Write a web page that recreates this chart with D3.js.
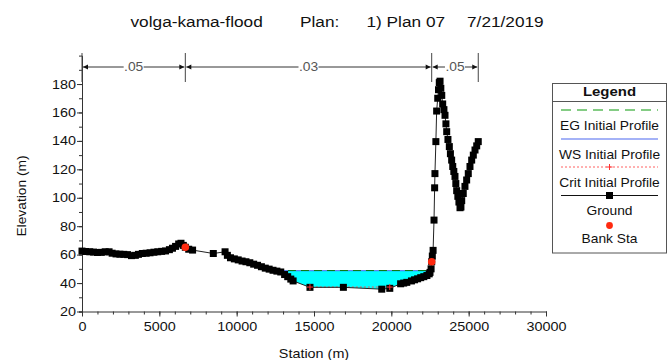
<!DOCTYPE html>
<html><head><meta charset="utf-8">
<script src="https://cdn.jsdelivr.net/npm/d3@7/dist/d3.min.js"></script>
<style>
body{margin:0;background:#fff}
svg{display:block}
text{font-family:"Liberation Sans",Arial,Helvetica,sans-serif;fill:#111}
</style>
</head><body>
<svg id="chart" width="669" height="360"></svg>
<script>
// ---------------- data ----------------
const titleParts = ["volga-kama-flood", "Plan:", "1) Plan 07", "7/21/2019"];
const groundStation = [0,250,500,750,1000,1250,1500,1750,1950,2200,2450,2700,2950,3200,3450,3650,3900,4150,4400,4650,4900,5150,5400,5650,5850,6050,6250,6400,6550,6680,6900,7150,8490,9250,9400,9600,9850,10100,10350,10600,10850,11100,11350,11600,11850,12100,12350,12600,12850,13100,13300,13500,13650,14740,16900,19380,19900,20600,20800,21000,21300,21500,21700,21900,22100,22300,22450,22500,22570,22610,22650,22700,22760,22800,22820,22880,22930,23000,23050,23100,23150,23200,23260,23320,23400,23470,23530,23580,23660,23750,23820,23900,23970,24040,24115,24170,24225,24300,24370,24440,24500,24550,24650,24760,24870,24975,25085,25195,25300,25410,25520,25620];
const groundElevation = [62.5,62.2,62,61.8,61.5,61.6,62,62,61,60.5,60.3,60.2,60,59.3,59.5,60.2,60.8,61,61.3,61.7,62,62.3,62.6,63.5,64.5,65.8,67.5,68,66.5,65.2,63.8,63.2,60.8,62,59.5,57.8,57,56.3,55.5,55,54.3,53.3,52.5,51.5,50.5,49.8,49,48.4,47.8,46,44.5,42.8,41.5,37,37,35.7,36.3,39.5,40,40.5,41.5,42.3,43,43.8,44.5,45.3,46.5,47.5,50,55,59,63,84.3,107,117,139.5,161,170,176,181,182,177,172,166,162,158,152,146.5,141,136,131,126.5,122,118.5,115,110,105,101,97,93,93.5,98,103,108,112.5,117,122,126.5,130,133.6,136.5,139.5];
const bankStation = [6680, 22610];
const bankElevation = [65.2, 55];
const wsElevation = 48.7;
const egElevation = 48.8;
const critStation = [14600, 20000];
const critElevation = 37.2;
const critMarkStation = [14740, 19900];
const nValues = [".05", ".03", ".05"];
const nBreaks = [0, 6680, 22610, 25620];
const xMajorTicks = [0, 5000, 10000, 15000, 20000, 25000, 30000];
const xMinorTicks = d3.range(0, 30001, 1000);
const yMajorTicks = [20, 40, 60, 80, 100, 120, 140, 160, 180];
const yMinorTicks = d3.range(20, 191, 10);
const legendItems = ["EG Initial Profile", "WS Initial Profile", "Crit Initial Profile", "Ground", "Bank Sta"];

// ---------------- setup ----------------
const SX = 1.15; // horizontal text stretch seen in the reference
const svg = d3.select("#chart");
const x = d3.scaleLinear().domain([0, 30000]).range([82, 546]);
const y = d3.scaleLinear().domain([20, 200]).range([311.5, 55.6]);

function stext(g, str, px, py, size, anchor, extra) {
  return g.append("text")
    .attr("transform", `translate(${px},${py}) ${extra || ""} scale(${SX},1)`)
    .attr("text-anchor", anchor || "start")
    .style("font-size", size + "px")
    .text(str);
}

// title
const titleX = [130.5, 300, 366.5, 467];
titleParts.forEach((t, i) => stext(svg, t, titleX[i], 27, 15, "start"));

// ---------------- axes ----------------
const axisColor = "#333";
const xAxisG = svg.append("g").attr("transform", `translate(0,${y(20)})`);
xAxisG.call(d3.axisBottom(x).tickValues(xMinorTicks).tickSize(3).tickFormat(""));
xAxisG.append("g").call(d3.axisBottom(x).tickValues(xMajorTicks).tickSize(5).tickFormat(d3.format("d")))
  .call(g => g.select(".domain").remove())
  .call(g => g.selectAll("text").attr("y", 11).attr("dy", "0.71em")
     .attr("transform", `scale(${SX},1)`).attr("x", 0)
     .style("font-size", "12.5px").style("font-family", '"Liberation Sans",Arial,sans-serif').attr("fill", "#111"));
xAxisG.selectAll("path,line").attr("stroke", axisColor);

const yAxisG = svg.append("g").attr("transform", `translate(${x(0)},0)`);
yAxisG.call(d3.axisLeft(y).tickValues(yMinorTicks).tickSize(3).tickFormat(""));
yAxisG.append("g").call(d3.axisLeft(y).tickValues(yMajorTicks).tickSize(5).tickFormat(d3.format("d")))
  .call(g => g.select(".domain").remove())
  .call(g => g.selectAll("text").attr("x", -6 / SX).attr("transform", `scale(${SX},1)`)
     .style("font-size", "12.5px").style("font-family", '"Liberation Sans",Arial,sans-serif').attr("fill", "#111"));
yAxisG.selectAll("path,line").attr("stroke", axisColor);

stext(svg, "Elevation (m)", 22, 196, 12, "middle", "rotate(-90)").attr("dy", "0.35em");
stext(svg, "Station (m)", 314, 358, 12.5, "middle");

// ---------------- water ----------------
const pts = groundStation.map((s, i) => [s, groundElevation[i]]);
function crossing(a, b, lvl) {
  const t = (lvl - a[1]) / (b[1] - a[1]);
  return a[0] + t * (b[0] - a[0]);
}
let li = -1, ri = -1;
for (let i = 0; i < pts.length - 1; i++) {
  if (li < 0 && pts[i][0] > 10000 && pts[i][1] >= wsElevation && pts[i + 1][1] < wsElevation) li = i;
  if (li >= 0 && pts[i][1] < wsElevation && pts[i + 1][1] >= wsElevation) { ri = i; break; }
}
const leftX = crossing(pts[li], pts[li + 1], wsElevation);
const rightX = crossing(pts[ri], pts[ri + 1], wsElevation);
const poly = [[leftX, wsElevation]].concat(pts.slice(li + 1, ri + 1)).concat([[rightX, wsElevation]]);
const lineGen = d3.line().x(d => x(d[0])).y(d => y(d[1]));
svg.append("path").attr("d", lineGen(poly) + "Z").attr("fill", "#00ffff").attr("stroke", "none");

// crit line
svg.append("path").attr("d", lineGen(critStation.map(s => [s, critElevation])))
  .attr("stroke", "#ff5050").attr("stroke-width", 1).attr("stroke-dasharray", "2,2").attr("fill", "none");
// WS line
svg.append("path").attr("d", lineGen([[leftX, wsElevation], [rightX, wsElevation]]))
  .attr("stroke", "#4a66f0").attr("stroke-width", 1).attr("fill", "none");
// EG line
svg.append("path").attr("d", lineGen([[leftX, egElevation], [rightX, egElevation]]))
  .attr("stroke", "#0a7a0a").attr("stroke-width", 1).attr("stroke-dasharray", "8,5").attr("fill", "none");

// ---------------- ground ----------------
svg.append("path").attr("d", lineGen(pts)).attr("stroke", "#222").attr("stroke-width", 1).attr("fill", "none");
svg.append("g").selectAll("rect").data(pts).join("rect")
  .attr("x", d => x(d[0]) - 3.5).attr("y", d => y(d[1]) - 3.5)
  .attr("width", 7).attr("height", 7).attr("fill", "#000");

// crit markers
svg.append("g").selectAll("g").data(critMarkStation).join("g")
  .attr("transform", s => `translate(${x(s)},${y(critElevation)})`)
  .call(g => {
    g.append("line").attr("x1", -3).attr("x2", 3).attr("stroke", "#ff3030");
    g.append("line").attr("y1", -3).attr("y2", 3).attr("stroke", "#ff3030");
  });

// bank stations
svg.append("g").selectAll("circle").data(bankStation).join("circle")
  .attr("cx", s => x(s)).attr("cy", (s, i) => y(bankElevation[i])).attr("r", 3.8).attr("fill", "#ff2a10");

// ---------------- n-value bar ----------------
const nY = 67;
const nG = svg.append("g");
nBreaks.forEach(s => nG.append("line").attr("x1", x(s)).attr("x2", x(s)).attr("y1", 53).attr("y2", 82)
  .attr("stroke", "#444").attr("stroke-width", 1));
nValues.forEach((v, i) => {
  const a = x(nBreaks[i]), b = x(nBreaks[i + 1]), m = (a + b) / 2;
  const half = 10;
  nG.append("line").attr("x1", a + 1).attr("x2", m - half).attr("y1", nY).attr("y2", nY).attr("stroke", "#333");
  nG.append("line").attr("x1", m + half).attr("x2", b - 1).attr("y1", nY).attr("y2", nY).attr("stroke", "#333");
  nG.append("path").attr("d", `M${a + 1},${nY}l5,-2.5v5z`).attr("fill", "#111");
  nG.append("path").attr("d", `M${b - 1},${nY}l-5,-2.5v5z`).attr("fill", "#111");
  stext(nG, v, m, nY + 4, 12, "middle").style("fill", "#555");
});

// ---------------- legend ----------------
const L = svg.append("g");
L.append("rect").attr("x", 552.5).attr("y", 83.5).attr("width", 114).attr("height", 169.5)
  .attr("fill", "#fff").attr("stroke", "#555");
L.append("line").attr("x1", 552.5).attr("x2", 666.5).attr("y1", 101.5).attr("y2", 101.5).attr("stroke", "#555");
stext(L, "Legend", 609.5, 96, 13, "middle").style("font-weight", "bold");
const lx1 = 561, lx2 = 658, lc = 609.5;
L.append("line").attr("x1", lx1).attr("x2", lx2).attr("y1", 110).attr("y2", 110)
  .attr("stroke", "#0a9a0a").attr("stroke-width", 1.2).attr("stroke-dasharray", "10,6");
stext(L, legendItems[0], lc, 130, 12, "middle");
L.append("line").attr("x1", lx1).attr("x2", lx2).attr("y1", 139).attr("y2", 139)
  .attr("stroke", "#4a66f0").attr("stroke-width", 1.2);
stext(L, legendItems[1], lc, 159, 12, "middle");
L.append("line").attr("x1", lx1).attr("x2", lx2).attr("y1", 167).attr("y2", 167)
  .attr("stroke", "#ff6060").attr("stroke-width", 1).attr("stroke-dasharray", "2,2");
L.append("line").attr("x1", lc - 3).attr("x2", lc + 3).attr("y1", 167).attr("y2", 167).attr("stroke", "#ff3030");
L.append("line").attr("x1", lc).attr("x2", lc).attr("y1", 164).attr("y2", 170).attr("stroke", "#ff3030");
stext(L, legendItems[2], lc, 186.5, 12, "middle");
L.append("line").attr("x1", lx1).attr("x2", lx2).attr("y1", 195.5).attr("y2", 195.5).attr("stroke", "#111");
L.append("rect").attr("x", lc - 3.5).attr("y", 192).attr("width", 7).attr("height", 7).attr("fill", "#000");
stext(L, legendItems[3], lc, 214.5, 12, "middle");
L.append("circle").attr("cx", lc).attr("cy", 225.5).attr("r", 3.4).attr("fill", "#ff2a10");
stext(L, legendItems[4], lc, 243, 12, "middle");
</script>
</body></html>
